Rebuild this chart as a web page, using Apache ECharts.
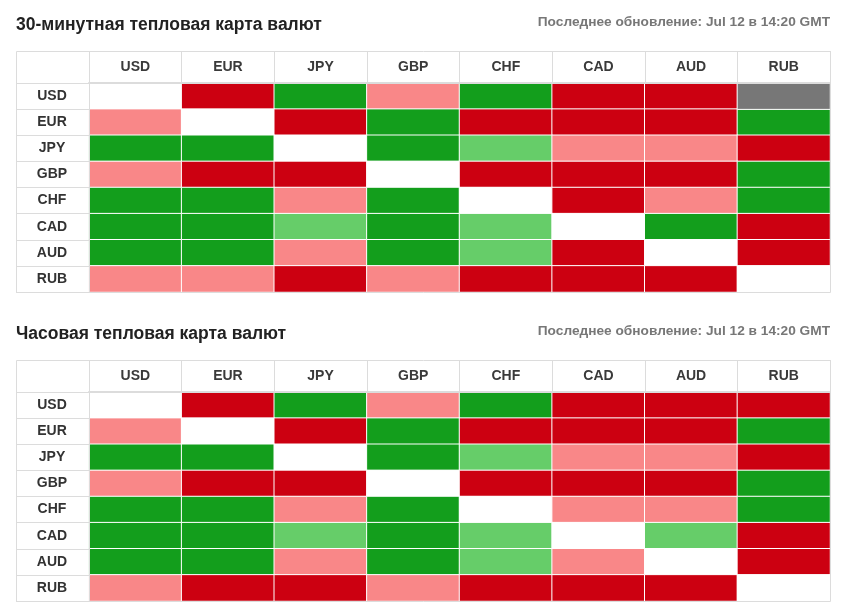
<!DOCTYPE html>
<html>
<head>
<meta charset="utf-8">
<script src="https://cdn.jsdelivr.net/npm/echarts@6/dist/echarts.min.js"></script>
<style>
html,body{margin:0;padding:0;background:#fff;}
#chart{width:841px;height:610px;}
</style>
</head>
<body>
<div id="chart"></div>
<script>
// ---- data ----
const currencies = ['USD', 'EUR', 'JPY', 'GBP', 'CHF', 'CAD', 'AUD', 'RUB'];
const titles = ['30-минутная тепловая карта валют', 'Часовая тепловая карта валют'];
const updated = 'Последнее обновление: Jul 12 в 14:20 GMT';
// levels: 2 strong up, 1 weak up, 0 same currency, -1 weak down, -2 strong down, null no data
const heat30 = [
  [0, -2, 2, -1, 2, -2, -2, null],
  [-1, 0, -2, 2, -2, -2, -2, 2],
  [2, 2, 0, 2, 1, -1, -1, -2],
  [-1, -2, -2, 0, -2, -2, -2, 2],
  [2, 2, -1, 2, 0, -2, -1, 2],
  [2, 2, 1, 2, 1, 0, 2, -2],
  [2, 2, -1, 2, 1, -2, 0, -2],
  [-1, -1, -2, -1, -2, -2, -2, 0]
];
const heat60 = [
  [0, -2, 2, -1, 2, -2, -2, -2],
  [-1, 0, -2, 2, -2, -2, -2, 2],
  [2, 2, 0, 2, 1, -1, -1, -2],
  [-1, -2, -2, 0, -2, -2, -2, 2],
  [2, 2, -1, 2, 0, -1, -1, 2],
  [2, 2, 1, 2, 1, 0, 1, -2],
  [2, 2, -1, 2, 1, -1, 0, -2],
  [-1, -2, -2, -1, -2, -2, -2, 0]
];

// ---- styles ----
const FONT = '"Liberation Sans", Arial, sans-serif';
const levelColor = { '2': '#139e1c', '1': '#66cd69', '0': '#ffffff', '-1': '#f98788', '-2': '#cc0011' };
const naColor = '#777777';
const lineColor = '#dcdcdc';

const tables = [
  { data: heat30, title: titles[0], titleTop: 11, subTop: 10, gridTop: 83 },
  { data: heat60, title: titles[1], titleTop: 320, subTop: 319, gridTop: 392 }
];
const gridLeft = 89, gridRight = 11, gridHeight = 209, headerH = 32, labelW = 73;

const option = {
  backgroundColor: '#fff',
  animation: false,
  title: [],
  grid: [],
  xAxis: [],
  yAxis: [],
  series: [],
  graphic: []
};

tables.forEach((t, k) => {
  option.title.push({
    text: t.title, left: 11, top: t.titleTop,
    textStyle: { fontFamily: FONT, fontSize: 17.5, fontWeight: 'bold', color: '#222' }
  });
  option.title.push({
    text: updated, right: 6, top: t.subTop,
    textStyle: { fontFamily: FONT, fontSize: 13.7, fontWeight: 'bold', color: '#777' }
  });
  option.grid.push({ left: gridLeft, right: gridRight, top: t.gridTop, height: gridHeight });
  option.xAxis.push({
    type: 'category', gridIndex: k, data: currencies, position: 'top', z: 5,
    axisLine: { show: true, lineStyle: { color: lineColor, width: 2 } },
    axisTick: { show: true, length: headerH, lineStyle: { color: lineColor } },
    axisLabel: { margin: 16, verticalAlign: 'middle', fontFamily: FONT, fontSize: 14, color: '#3a3a3a', fontWeight: 'bold' },
    splitLine: { show: false }
  });
  option.yAxis.push({
    type: 'category', gridIndex: k, data: currencies, inverse: true, z: 5,
    axisLine: { show: true, lineStyle: { color: lineColor } },
    axisTick: { show: true, length: labelW, lineStyle: { color: lineColor } },
    axisLabel: { margin: 37, align: 'center', fontFamily: FONT, fontSize: 14, fontWeight: 'bold', color: '#333' },
    splitLine: { show: false }
  });
  const cells = [], naCells = [];
  t.data.forEach((row, i) => row.forEach((v, j) => {
    if (v === null) naCells.push({ value: [j, i, 1], itemStyle: { color: naColor } });
    else cells.push({ value: [j, i, v], itemStyle: { color: levelColor[String(v)] } });
  }));
  const base = {
    type: 'heatmap', xAxisIndex: k, yAxisIndex: k,
    itemStyle: { borderColor: '#fff', borderWidth: 1 },
    emphasis: { disabled: true }, label: { show: false }
  };
  option.series.push(Object.assign({}, base, { name: t.title, data: cells }));
  option.series.push(Object.assign({}, base, { name: t.title + ' n/a', data: naCells }));
  // outer frame of the table
  option.graphic.push({
    type: 'rect', z: 100, silent: true,
    shape: { x: gridLeft - labelW + 0.5, y: t.gridTop - headerH + 0.5, width: 841 - gridRight - gridLeft + labelW, height: gridHeight + headerH },
    style: { fill: 'none', stroke: lineColor, lineWidth: 1 }
  });
});

const chart = echarts.init(document.getElementById('chart'), null, { renderer: 'canvas' });
chart.setOption(option);
</script>
</body>
</html>
